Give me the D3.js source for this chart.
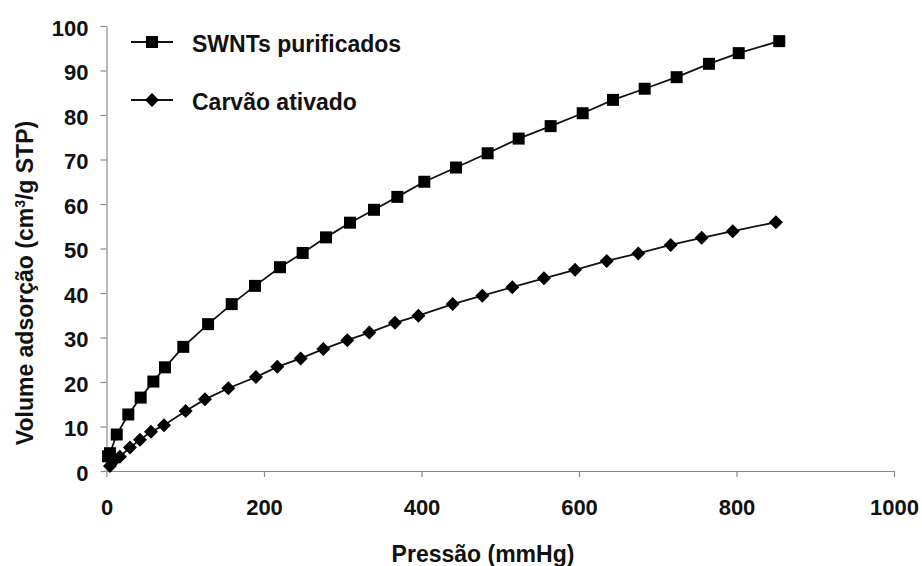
<!DOCTYPE html>
<html>
<head>
<meta charset="utf-8">
<script src="https://cdn.jsdelivr.net/npm/d3@7"></script>
<style>
  html, body { margin: 0; padding: 0; background: #fff; }
  svg { display: block; font-family: "Liberation Sans", Arial, sans-serif; }
</style>
</head>
<body>
<svg id="chart" width="922" height="566"></svg>
<script>
// Adsorption isotherms: pressure (mmHg) vs adsorbed volume (cm³/g STP)
const swntPressure = [2, 4.4, 13, 27.7, 43.4, 59.5, 74.3, 97.5, 129, 159, 188.6, 220.3, 249.1, 278.7, 309.2, 339.7, 369.3, 403.6, 443.8, 484, 523.4, 564, 604.7, 643.2, 683.4, 724, 765, 802.8, 854.3];
const swntVolume   = [3.3, 4.0, 8.2, 12.7, 16.5, 20.1, 23.3, 27.9, 33.0, 37.5, 41.6, 45.8, 49.0, 52.5, 55.8, 58.7, 61.6, 65.0, 68.2, 71.4, 74.7, 77.5, 80.4, 83.4, 85.9, 88.5, 91.5, 93.9, 96.6];

const carbonPressure = [4.4, 10.8, 17, 29.8, 42.5, 56.5, 73, 100.5, 125, 154.7, 189.8, 216.9, 246.6, 275.3, 305.8, 333.7, 366.3, 396, 439.6, 477.2, 515.3, 555.5, 595, 635.2, 675.3, 716.4, 755.8, 795.2, 850];
const carbonVolume   = [1.1, 2.5, 3.2, 5.3, 7.0, 8.8, 10.3, 13.5, 16.1, 18.6, 21.1, 23.4, 25.3, 27.4, 29.4, 31.1, 33.3, 34.9, 37.5, 39.4, 41.3, 43.3, 45.2, 47.2, 48.9, 50.8, 52.4, 53.9, 55.9];

const seriesNames = ["SWNTs purificados", "Carvão ativado"];
const xTicks = [0, 200, 400, 600, 800, 1000];
const yTicks = [0, 10, 20, 30, 40, 50, 60, 70, 80, 90, 100];
const xTitle = "Pressão (mmHg)";

const svg = d3.select("#chart");
const ink = "#111";
const axisGrey = "#8a8a8a";

const x = d3.scaleLinear().domain([0, 1000]).range([106.5, 894]);
const y = d3.scaleLinear().domain([0, 100]).range([471, 26]);

// Axes
const yAxis = d3.axisLeft(y).tickValues(yTicks).tickFormat(d3.format("d"))
  .tickSize(6).tickSizeOuter(0).tickPadding(12);
const xAxis = d3.axisBottom(x).tickValues(xTicks).tickFormat(d3.format("d"))
  .tickSize(6).tickSizeOuter(0).tickPadding(22);

const gy = svg.append("g").attr("transform", `translate(${x(0)},0)`).call(yAxis);
const gx = svg.append("g").attr("transform", `translate(0,${y(0)})`).call(xAxis);

[gx, gy].forEach(g => {
  g.select(".domain").attr("stroke", axisGrey).attr("stroke-width", 1.2);
  g.selectAll(".tick line").attr("stroke", axisGrey).attr("stroke-width", 1.2);
  g.selectAll(".tick text")
    .attr("fill", ink)
    .style("font-size", "22px")
    .style("font-weight", "bold")
    .style("font-family", "'Liberation Sans', Arial, sans-serif");
});
gy.selectAll(".tick text").attr("dy", "0.42em");

// Axis titles
svg.append("text")
  .attr("x", 483).attr("y", 562)
  .attr("text-anchor", "middle")
  .attr("fill", ink)
  .style("font-size", "23px").style("font-weight", "bold")
  .text(xTitle);

const yTitle = svg.append("text")
  .attr("transform", "translate(33,283) rotate(-90)")
  .attr("text-anchor", "middle")
  .attr("fill", ink)
  .style("font-size", "23px").style("font-weight", "bold");
yTitle.append("tspan").text("Volume adsorção (cm");
yTitle.append("tspan").attr("dy", -8).style("font-size", "14px").text("3");
yTitle.append("tspan").attr("dy", 8).text("/g STP)");

// Series
const line = d3.line().x(d => x(d[0])).y(d => y(d[1]));
const swnt = swntPressure.map((p, i) => [p, swntVolume[i]]);
const carbon = carbonPressure.map((p, i) => [p, carbonVolume[i]]);

const square = d3.symbol().type(d3.symbolSquare).size(144);
const diamond = d3.symbol().type(d3.symbolSquare).size(98);

function drawSeries(data, sym, rotate) {
  svg.append("path")
    .datum(data)
    .attr("d", line)
    .attr("fill", "none")
    .attr("stroke", ink)
    .attr("stroke-width", 1.8);
  svg.append("g").selectAll("path")
    .data(data)
    .join("path")
    .attr("d", sym)
    .attr("transform", d => `translate(${x(d[0])},${y(d[1])})${rotate ? " rotate(45)" : ""}`)
    .attr("fill", "#000");
}
drawSeries(carbon, diamond, true);
drawSeries(swnt, square, false);

// Legend
const legend = svg.append("g");
const legendRows = [
  { name: seriesNames[0], sym: square, rotate: false, cy: 42 },
  { name: seriesNames[1], sym: diamond, rotate: true, cy: 100 }
];
legendRows.forEach(r => {
  legend.append("line")
    .attr("x1", 131).attr("x2", 173).attr("y1", r.cy).attr("y2", r.cy)
    .attr("stroke", ink).attr("stroke-width", 1.8);
  legend.append("path")
    .attr("d", r.sym)
    .attr("transform", `translate(152,${r.cy})${r.rotate ? " rotate(45)" : ""}`)
    .attr("fill", "#000");
  legend.append("text")
    .attr("x", 192).attr("y", r.cy + 10)
    .attr("fill", ink)
    .style("font-size", "23px").style("font-weight", "bold")
    .text(r.name);
});
</script>
</body>
</html>
